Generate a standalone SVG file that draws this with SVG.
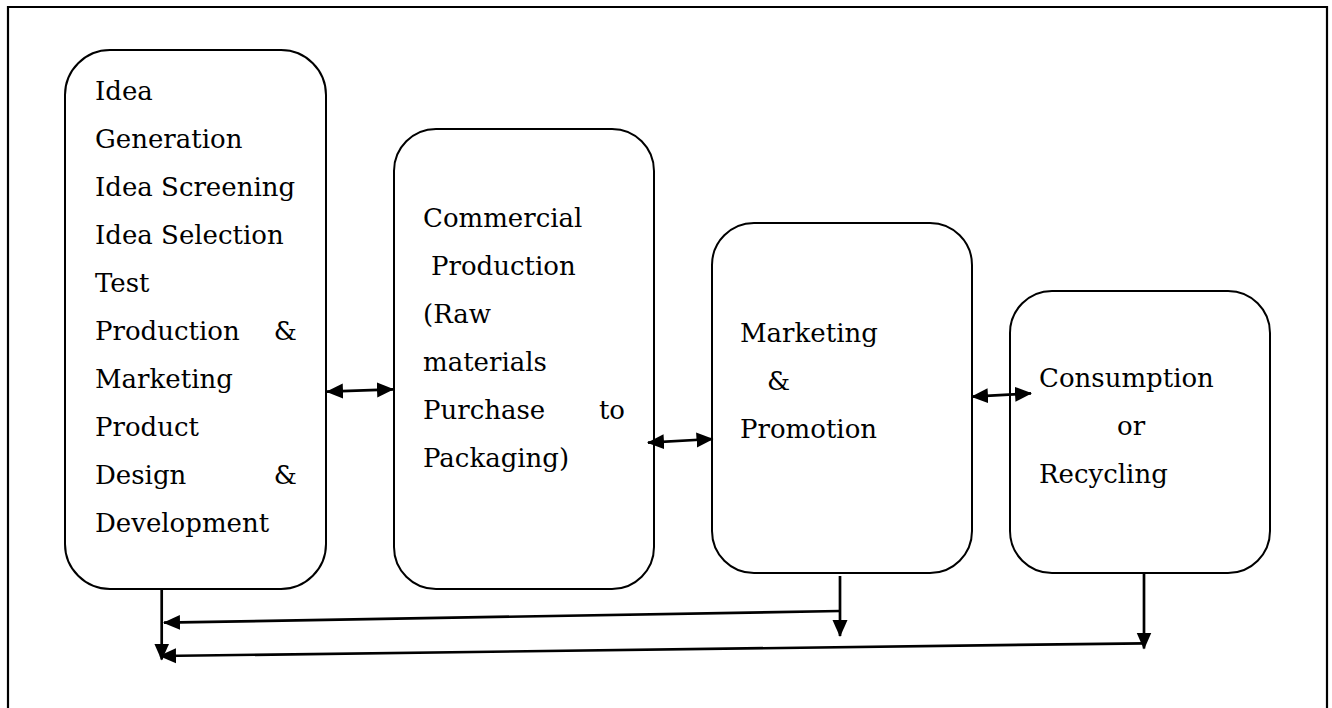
<svg xmlns="http://www.w3.org/2000/svg" width="1332" height="708" viewBox="0 0 1332 708">
  <style>
    .box { fill: #ffffff; stroke: #000000; stroke-width: 2; }
    .frame { fill: none; stroke: #000000; stroke-width: 2.2; }
    .lbl { font-family: "DejaVu Serif", "Liberation Serif", serif; font-size: 26px; fill: #000000; }
    .wire { fill: none; stroke: #000000; stroke-width: 2.7; }
    .both { marker-start: url(#head); marker-end: url(#head); }
    .one { marker-end: url(#head); }
  </style>
  <defs>
    <marker id="head" markerUnits="userSpaceOnUse" markerWidth="18" markerHeight="16" refX="16" refY="8" orient="auto-start-reverse">
      <path d="M0,0.5 L17,8 L0,15.5 Z" fill="#000000"/>
    </marker>
  </defs>

  <rect width="1332" height="708" fill="#ffffff"/>
  <!-- page frame, open at the bottom -->
  <path class="frame" d="M8,712 L8,7 L1327,7 L1327,712"/>

  <g id="node-idea">
    <rect class="box" x="65" y="50" width="261" height="539" rx="45" ry="45"/>
    <text class="lbl" x="95" y="100">Idea</text>
    <text class="lbl" x="95" y="148">Generation</text>
    <text class="lbl" x="95" y="196">Idea Screening</text>
    <text class="lbl" x="95" y="244">Idea Selection</text>
    <text class="lbl" x="95" y="292">Test</text>
    <text class="lbl" x="95" y="340">Production</text>
    <text class="lbl" x="297" y="340" text-anchor="end">&amp;</text>
    <text class="lbl" x="95" y="388">Marketing</text>
    <text class="lbl" x="95" y="436">Product</text>
    <text class="lbl" x="95" y="484">Design</text>
    <text class="lbl" x="297" y="484" text-anchor="end">&amp;</text>
    <text class="lbl" x="95" y="532">Development</text>
  </g>

  <g id="node-production">
    <rect class="box" x="394" y="129" width="260" height="460" rx="42" ry="42"/>
    <text class="lbl" x="423" y="227">Commercial</text>
    <text class="lbl" x="431" y="275">Production</text>
    <text class="lbl" x="423" y="323">(Raw</text>
    <text class="lbl" x="423" y="371">materials</text>
    <text class="lbl" x="423" y="419">Purchase</text>
    <text class="lbl" x="625" y="419" text-anchor="end">to</text>
    <text class="lbl" x="423" y="467">Packaging)</text>
  </g>

  <g id="node-marketing">
    <rect class="box" x="712" y="223" width="260" height="350" rx="42" ry="42"/>
    <text class="lbl" x="740" y="342">Marketing</text>
    <text class="lbl" x="767" y="390">&amp;</text>
    <text class="lbl" x="740" y="438">Promotion</text>
  </g>

  <g id="node-consumption">
    <rect class="box" x="1010" y="291" width="260" height="282" rx="42" ry="42"/>
    <text class="lbl" x="1039" y="387">Consumption</text>
    <text class="lbl" x="1117" y="435">or</text>
    <text class="lbl" x="1039" y="483">Recycling</text>
  </g>

  <g id="connectors">
    <!-- two-way links between neighbouring stages -->
    <line class="wire both" x1="327" y1="391.7" x2="393" y2="389.3"/>
    <line class="wire both" x1="648" y1="442.7" x2="712.5" y2="439"/>
    <line class="wire both" x1="972" y1="396.7" x2="1031" y2="393.3"/>
    <!-- feedback lines under the stages -->
    <line class="wire one" x1="161.7" y1="589" x2="161.7" y2="659.5"/>
    <line class="wire one" x1="840" y1="576" x2="840" y2="636"/>
    <line class="wire one" x1="840" y1="611" x2="164" y2="622.7"/>
    <line class="wire one" x1="1144" y1="573" x2="1144" y2="648.5"/>
    <line class="wire one" x1="1144" y1="643.3" x2="160" y2="656"/>
  </g>
</svg>
